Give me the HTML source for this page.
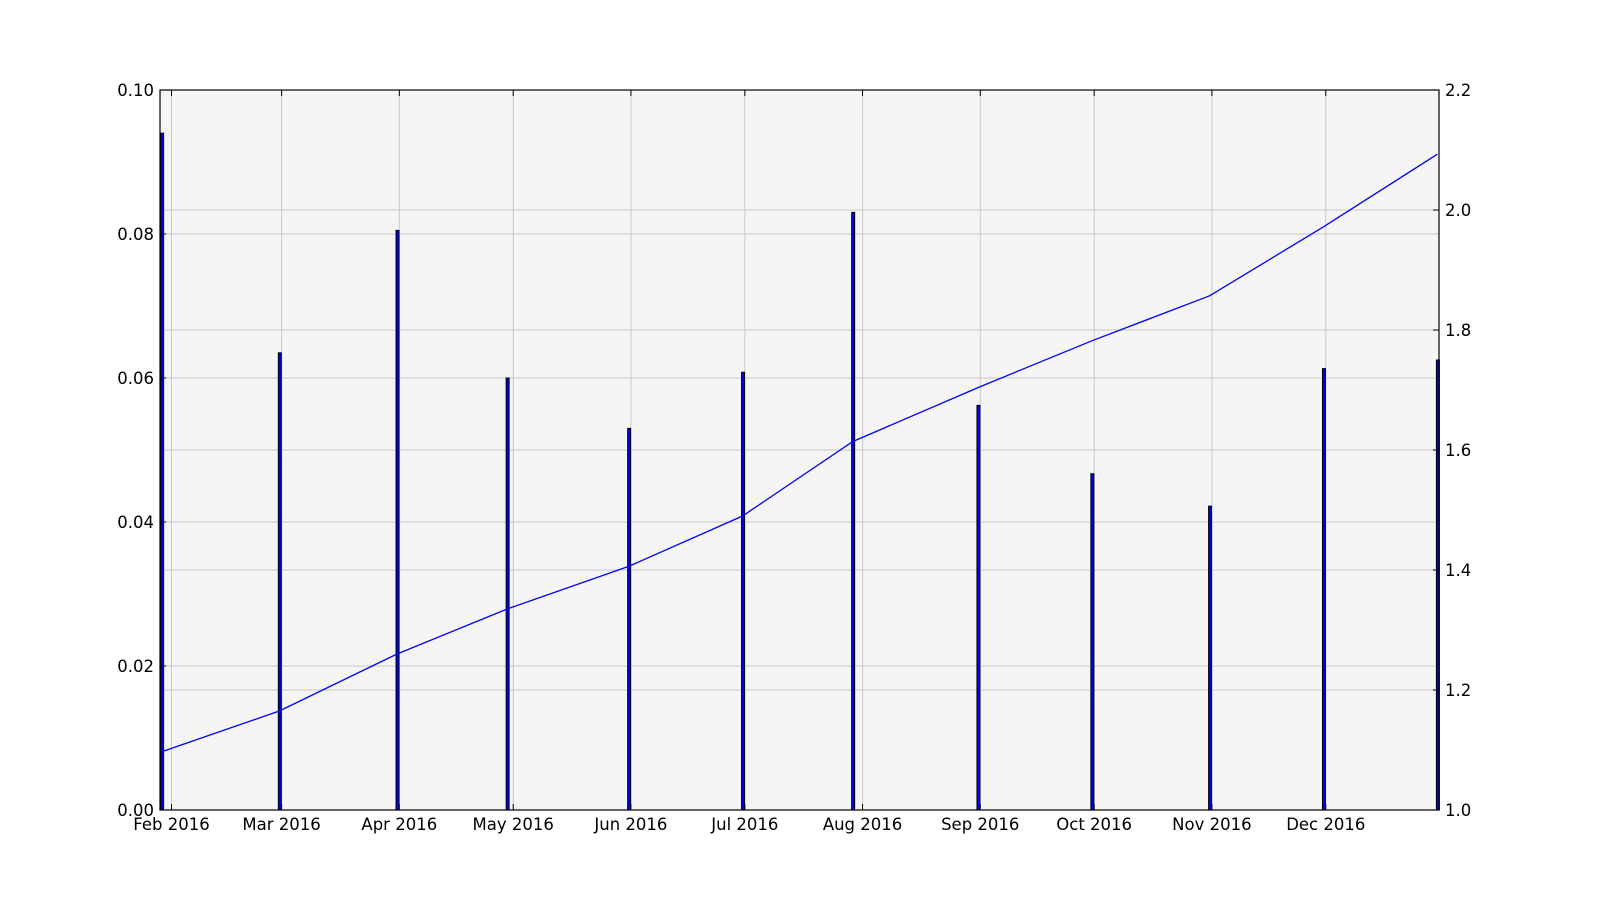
<!DOCTYPE html>
<html><head><meta charset="utf-8"><style>
body{margin:0;background:#fff;width:1600px;height:900px;overflow:hidden}
text{font-family:"DejaVu Sans","Liberation Sans",sans-serif;font-size:16.5px;fill:#000}
</style></head><body>
<svg id="chart" width="1600" height="900" xmlns="http://www.w3.org/2000/svg"></svg>
<script>
const barDays=[28,59,90,119,151,181,210,243,273,304,334,364];
const barValues=[0.094,0.0635,0.0805,0.060,0.053,0.0608,0.083,0.0562,0.0467,0.0422,0.0613,0.0625];
const lineValues=[1.097,1.165,1.26,1.335,1.406,1.49,1.614,1.704,1.782,1.857,1.972,2.093];
const monthLabels=["Feb 2016","Mar 2016","Apr 2016","May 2016","Jun 2016","Jul 2016","Aug 2016","Sep 2016","Oct 2016","Nov 2016","Dec 2016"];
const monthDays=[31,60,91,121,152,182,213,244,274,305,335];
const leftTicks=[0,0.02,0.04,0.06,0.08,0.10];
const rightTicks=[1.0,1.2,1.4,1.6,1.8,2.0,2.2];

const L=160,R=1439,T=90,B=810;
const x=d=>171.5+(d-31)*3.797;
const yl=v=>B-(v/0.1)*(B-T);
const yr=v=>B-((v-1)/1.2)*(B-T);
const svg=document.getElementById('chart');
const NS='http://www.w3.org/2000/svg';
function mk(tag,attrs,parent){const e=document.createElementNS(NS,tag);for(const k in attrs)e.setAttribute(k,attrs[k]);(parent||svg).appendChild(e);return e;}

const bg=mk('rect',{x:L,y:T,width:R-L,height:B-T,fill:'#f5f5f5'});



monthDays.forEach(d=>{const g=mk('line',{x1:x(d),x2:x(d),y1:T,y2:B,stroke:'#c8c8c8','stroke-width':1});

});
leftTicks.forEach(v=>{const g=mk('line',{x1:L,x2:R,y1:yl(v),y2:yl(v),stroke:'#c8c8c8','stroke-width':1});

});
rightTicks.forEach(v=>{const g=mk('line',{x1:L,x2:R,y1:yr(v),y2:yr(v),stroke:'#c8c8c8','stroke-width':1});

});

barDays.forEach((d,i)=>{const y=yl(barValues[i]);const b=mk('rect',{x:x(d)+0.5,y:y,width:3,height:B-y,fill:'#0000ff',stroke:'#000','stroke-width':1});

});

const pts=barDays.map((d,i)=>x(d)+1.5+','+yr(lineValues[i])).join(' ');
const ln=mk('polyline',{points:pts,fill:'none',stroke:'#0000ff','stroke-width':1.3});



const fr=mk('rect',{x:L,y:T,width:R-L,height:B-T,fill:'none',stroke:'#000','stroke-width':1.2});



monthDays.forEach((d,i)=>{mk('line',{x1:x(d),x2:x(d),y1:B,y2:B-6,stroke:'#000'});mk('line',{x1:x(d),x2:x(d),y1:T,y2:T+6,stroke:'#000'});
const t=mk('text',{x:x(d),y:B+20,'text-anchor':'middle'});t.textContent=monthLabels[i];

});
leftTicks.forEach(v=>{mk('line',{x1:L,x2:L+6,y1:yl(v),y2:yl(v),stroke:'#000'});
const t=mk('text',{x:L-6,y:yl(v)+6,'text-anchor':'end'});t.textContent=v.toFixed(2);

});
rightTicks.forEach(v=>{mk('line',{x1:R-6,x2:R,y1:yr(v),y2:yr(v),stroke:'#000'});
const t=mk('text',{x:R+6,y:yr(v)+6,'text-anchor':'start'});t.textContent=v.toFixed(1);

});
</script>
</body></html>
